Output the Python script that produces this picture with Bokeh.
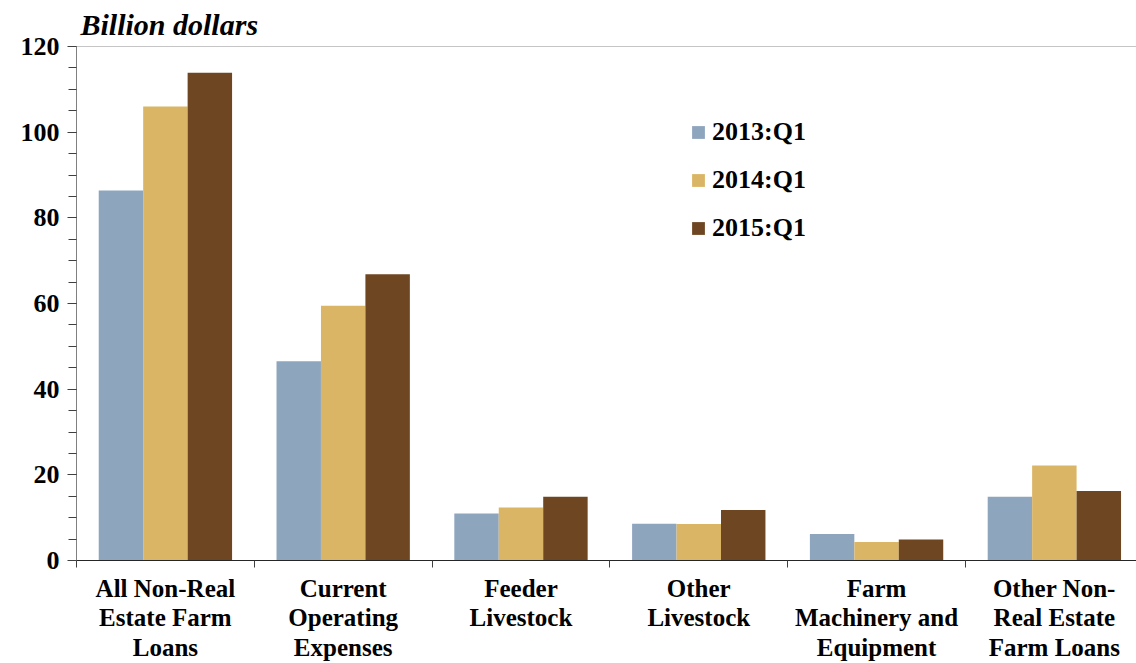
from bokeh.plotting import figure
from bokeh.models import (Range1d, FixedTicker, Legend, LegendItem, Span,
                          ColumnDataSource)
from bokeh.transform import dodge
from bokeh.embed import file_html
from bokeh.resources import INLINE

categories = ["All Non-Real\nEstate Farm\nLoans", "Current\nOperating\nExpenses",
              "Feeder\nLivestock", "Other\nLivestock",
              "Farm\nMachinery and\nEquipment", "Other Non-\nReal Estate\nFarm Loans"]
series = ["2013:Q1", "2014:Q1", "2015:Q1"]
v2013 = [86.4, 46.5, 11.0, 8.6, 6.2, 14.9]
v2014 = [106.0, 59.5, 12.4, 8.5, 4.3, 22.2]
v2015 = [113.9, 66.8, 14.9, 11.8, 4.9, 16.2]
colors = ["#8EA5BE", "#DAB565", "#6E4722"]
y_ticks = [0, 20, 40, 60, 80, 100, 120]

FONT = "Liberation Serif"

xc = [i + 0.5 for i in range(len(categories))]
src = ColumnDataSource(dict(x=xc, a=v2013, b=v2014, c=v2015))

p = figure(width=1136, height=663, output_backend="svg", toolbar_location=None,
           x_range=Range1d(0, 5.962), y_range=Range1d(0, 120),
           min_border_left=76, min_border_right=0, min_border_top=46,
           min_border_bottom=103, title="Billion dollars")
p.grid.visible = False
p.outline_line_color = None
p.background_fill_color = "white"

p.title.align = "left"
p.title.offset = 4
p.title.standoff = 11
p.title.text_line_height = 0.7
p.title.text_font = FONT
p.title.text_font_style = "bold italic"
p.title.text_font_size = "30px"
p.title.text_color = "black"

renderers = []
for col, off, color in zip(["a", "b", "c"], [-0.25, 0.0, 0.25], colors):
    r = p.vbar(x=dodge("x", off), top=col, width=0.25, bottom=0, source=src,
               fill_color=color, line_color=None)
    renderers.append(r)

# y axis
ya = p.yaxis[0]
ya.ticker = FixedTicker(ticks=y_ticks, minor_ticks=list(range(0, 121, 5)))
ya.axis_line_color = "#808080"
ya.major_tick_line_color = "#404040"
ya.minor_tick_line_color = "#404040"
ya.major_tick_out = 9
ya.major_tick_in = 0
ya.minor_tick_out = 8
ya.minor_tick_in = 0
ya.major_label_text_font = FONT
ya.major_label_text_font_style = "bold"
ya.major_label_text_font_size = "26px"
ya.major_label_text_color = "black"
ya.major_label_standoff = 8

# x axis
xa = p.xaxis[0]
xa.ticker = FixedTicker(ticks=xc, minor_ticks=list(range(0, 7)))
xa.major_label_overrides = {x: c for x, c in zip(xc, categories)}
xa.axis_line_color = "#262626"
xa.major_tick_line_color = None
xa.minor_tick_line_color = "#404040"
xa.minor_tick_out = 7
xa.minor_tick_in = 0
xa.major_label_text_font = FONT
xa.major_label_text_font_style = "bold"
xa.major_label_text_font_size = "25px"
xa.major_label_text_line_height = 1.1
xa.major_label_text_color = "black"
xa.major_label_standoff = 7

p.add_layout(Span(location=120, dimension="width", line_color="#8C8C8C", line_width=1))

legend = Legend(items=[LegendItem(label=s, renderers=[r]) for s, r in zip(series, renderers)],
                location=(614, 317), padding=0, margin=0, spacing=18,
                glyph_width=16, glyph_height=16, label_height=26, label_standoff=6,
                border_line_color=None, background_fill_alpha=0,
                label_text_font=FONT, label_text_font_style="bold",
                label_text_font_size="26px", label_text_color="black")
p.add_layout(legend, "center")

open("out.html", "w").write(file_html(p, INLINE))
